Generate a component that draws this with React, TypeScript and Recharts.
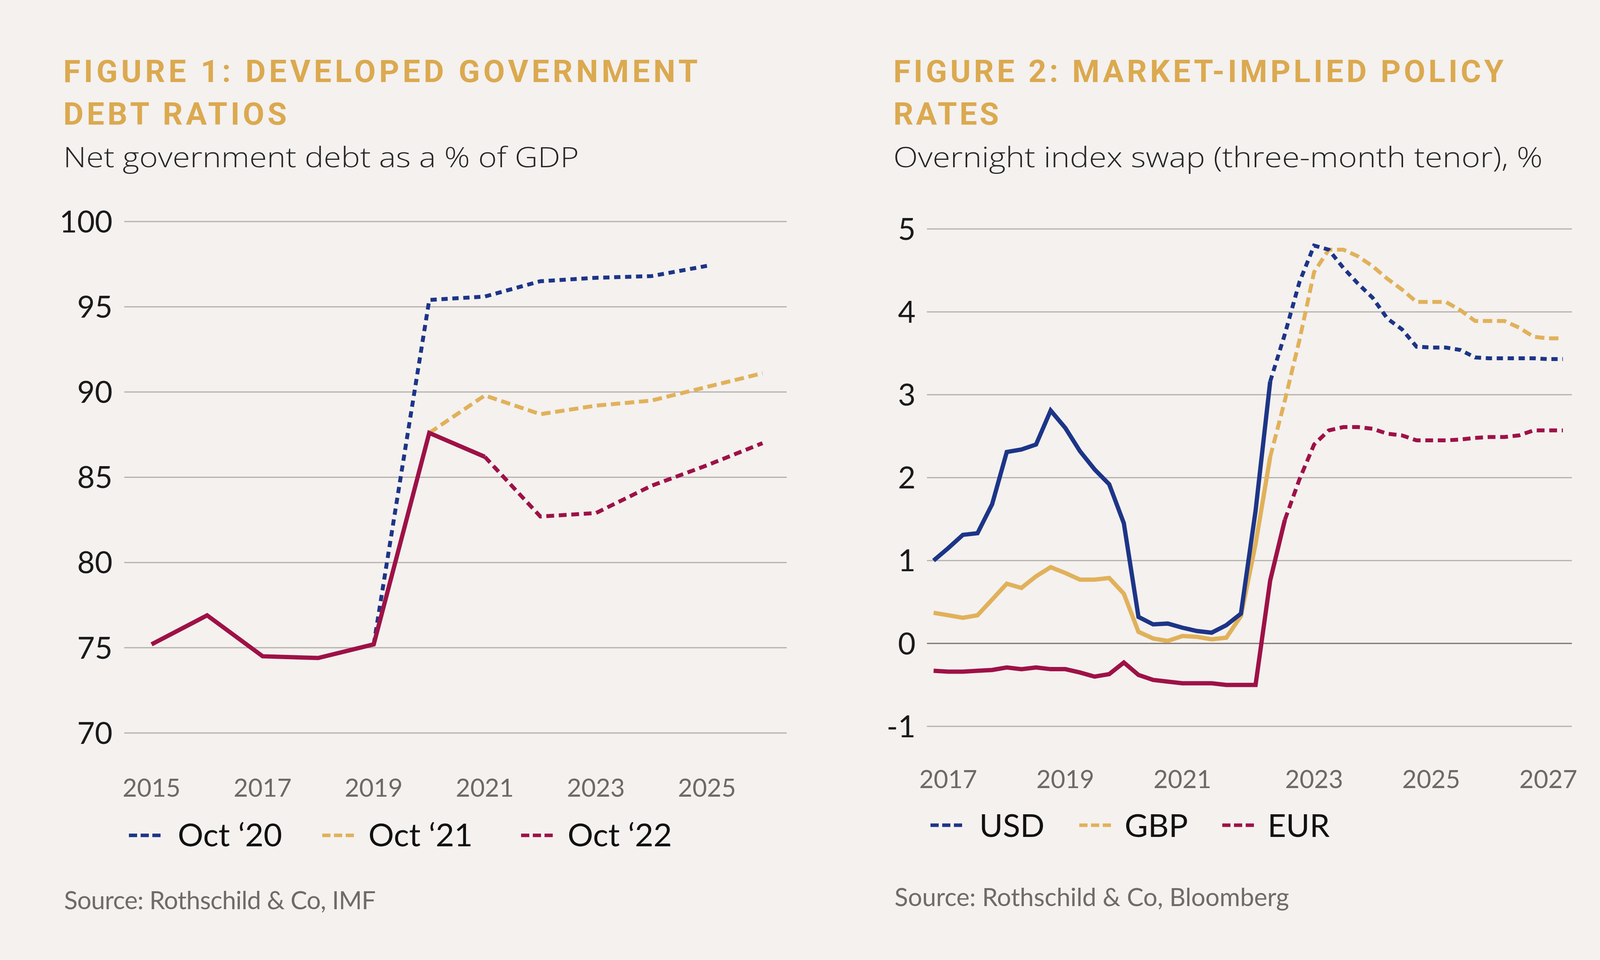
import React from 'react';
import { LineChart, Line, XAxis, YAxis, CartesianGrid, ReferenceLine } from 'recharts';

// ---------- palette ----------
const BG = '#F4F1EF';
const NAVY = '#1D3587';
const GOLD = '#E1B15A';
const CRIMSON = '#9E1147';
const TITLE_GOLD = '#DBA94F';
const GRID = '#B5B0AB';
const ZERO = '#7E7872';
const SANS = 'Lato, "Open Sans", "Noto Sans", sans-serif';
const LIGHT_SANS = '"Open Sans", Lato, "Noto Sans", sans-serif';

// ---------- Figure 1 data ----------
const fig1Years = [2015, 2016, 2017, 2018, 2019, 2020, 2021, 2022, 2023, 2024, 2025, 2026];
const oct20Values: (number | null)[] = [null, null, null, null, 75.2, 95.4, 95.6, 96.5, 96.7, 96.8, 97.4, null];
const oct21Values: (number | null)[] = [null, null, null, null, null, 87.6, 89.8, 88.7, 89.2, 89.5, 90.3, 91.1];
const oct22Values: number[] = [75.2, 76.9, 74.5, 74.4, 75.2, 87.6, 86.2, 82.7, 82.9, 84.5, 85.7, 87.0];
const oct22ForecastFrom = 2021;
const fig1YTicks = [70, 75, 80, 85, 90, 95, 100];
const fig1XTicks = [2015, 2017, 2019, 2021, 2023, 2025];

// ---------- Figure 2 data (quarterly) ----------
const usdValues = [
  1.0, 1.15, 1.31, 1.33, 1.68, 2.31, 2.34, 2.4, 2.81, 2.6, 2.32, 2.1, 1.92, 1.45,
  0.32, 0.23, 0.24, 0.19, 0.15, 0.13, 0.22, 0.36, 1.6, 3.16,
  3.73, 4.36, 4.8, 4.75, 4.53, 4.34, 4.17, 3.92, 3.79, 3.58, 3.57, 3.57, 3.54, 3.45, 3.44, 3.44, 3.44, 3.44, 3.43, 3.43,
];
const gbpValues = [
  0.37, 0.34, 0.31, 0.34, 0.53, 0.72, 0.67, 0.81, 0.92, 0.85, 0.77, 0.77, 0.79, 0.6,
  0.14, 0.06, 0.03, 0.09, 0.08, 0.05, 0.07, 0.33, 1.2, 2.25,
  2.93, 3.66, 4.48, 4.75, 4.75, 4.67, 4.55, 4.4, 4.27, 4.12, 4.12, 4.12, 4.02, 3.89, 3.89, 3.89, 3.81, 3.7, 3.68, 3.68,
];
const eurValues = [
  -0.33, -0.34, -0.34, -0.33, -0.32, -0.29, -0.31, -0.29, -0.31, -0.31, -0.35, -0.4, -0.37, -0.23,
  -0.38, -0.44, -0.46, -0.48, -0.48, -0.48, -0.5, -0.5, -0.5, 0.76, 1.49,
  1.98, 2.4, 2.57, 2.61, 2.61, 2.59, 2.53, 2.51, 2.45, 2.45, 2.45, 2.46, 2.48, 2.49, 2.49, 2.51, 2.57, 2.57, 2.57,
];
const usdForecastFrom = 23;
const gbpForecastFrom = 23;
const eurForecastFrom = 24;
const fig2YTicks = [-1, 0, 1, 2, 3, 4, 5];
const fig2XTickQuarters = [1, 9, 17, 26, 34, 42];
const fig2XTickLabels = ['2017', '2019', '2021', '2023', '2025', '2027'];

// ---------- legends ----------
const fig1LegendLabels = ['Oct \u201820', 'Oct \u201821', 'Oct \u201822'];
const fig1LegendColors = [NAVY, GOLD, CRIMSON];
const fig2LegendLabels = ['USD', 'GBP', 'EUR'];
const fig2LegendColors = [NAVY, GOLD, CRIMSON];

// ---------- tables ----------
const fig1Data = fig1Years.map((year, i) => ({
  year,
  oct20: oct20Values[i],
  oct21: oct21Values[i],
  oct22Solid: year <= oct22ForecastFrom ? oct22Values[i] : null,
  oct22Dash: year >= oct22ForecastFrom ? oct22Values[i] : null,
}));

const fig2Data = usdValues.map((_, q) => ({
  q,
  usdSolid: q <= usdForecastFrom ? usdValues[q] : null,
  usdDash: q >= usdForecastFrom ? usdValues[q] : null,
  gbpSolid: q <= gbpForecastFrom ? gbpValues[q] : null,
  gbpDash: q >= gbpForecastFrom ? gbpValues[q] : null,
  eurSolid: q <= eurForecastFrom ? eurValues[q] : null,
  eurDash: q >= eurForecastFrom ? eurValues[q] : null,
}));

const SOLID_W = 11;
const DASH_W = 10;

function Legend({ labels, colors, dashX, textX, dashY, textY }: any) {
  return (
    <g>
      {labels.map((l: string, i: number) => (
        <g key={l}>
          <line x1={dashX[i]} x2={dashX[i] + 81} y1={dashY} y2={dashY} stroke={colors[i]} strokeWidth={9} strokeDasharray="21 9" />
          <text x={textX[i]} y={textY} fontFamily={SANS} fontSize={82} fill="#111">{l}</text>
        </g>
      ))}
    </g>
  );
}

export default function App() {
  return (
    <div style={{ position: 'absolute', left: 0, top: 0, width: 4224, height: 2457, background: BG, overflow: 'hidden' }}>
      {/* Figure 1 */}
      <div style={{ position: 'absolute', left: 0, top: 0 }}>
        <LineChart width={2100} height={2150} data={fig1Data} margin={{ top: 567, right: 86, left: 0, bottom: 74 }}>
          <CartesianGrid vertical={false} stroke={GRID} strokeWidth={3} />
          <XAxis
            type="number"
            dataKey="year"
            domain={[2015, 2026]}
            ticks={fig1XTicks}
            interval={0}
            padding={{ left: 70, right: 62 }}
            axisLine={false}
            tickLine={false}
            tickSize={0}
            tickMargin={118}
            height={200}
            tick={{ fill: '#6D6964', fontSize: 64, fontFamily: SANS }}
          />
          <YAxis
            type="number"
            domain={[70, 100]}
            ticks={fig1YTicks}
            interval={0}
            axisLine={false}
            tickLine={false}
            tickSize={0}
            tickMargin={30}
            width={318}
            tick={{ fill: '#1A1A1A', fontSize: 78, fontFamily: SANS }}
          />
          <Line dataKey="oct20" stroke={NAVY} strokeWidth={DASH_W} strokeDasharray="16 12" dot={false} activeDot={false} isAnimationActive={false} />
          <Line dataKey="oct21" stroke={GOLD} strokeWidth={DASH_W} strokeDasharray="24 12" dot={false} activeDot={false} isAnimationActive={false} />
          <Line dataKey="oct22Solid" stroke={CRIMSON} strokeWidth={SOLID_W} dot={false} activeDot={false} isAnimationActive={false} />
          <Line dataKey="oct22Dash" stroke={CRIMSON} strokeWidth={DASH_W} strokeDasharray="20 12" dot={false} activeDot={false} isAnimationActive={false} />
        </LineChart>
      </div>

      {/* Figure 2 */}
      <div style={{ position: 'absolute', left: 2200, top: 0 }}>
        <LineChart width={1900} height={2150} data={fig2Data} margin={{ top: 586, right: 76, left: 0, bottom: 91 }}>
          <CartesianGrid vertical={false} stroke={GRID} strokeWidth={3} />
          <ReferenceLine y={0} stroke={ZERO} strokeWidth={3} />
          <XAxis
            type="number"
            dataKey="q"
            domain={[0, 43]}
            ticks={fig2XTickQuarters}
            tickFormatter={(v: number) => fig2XTickLabels[fig2XTickQuarters.indexOf(v)] ?? ''}
            interval={0}
            padding={{ left: 17, right: 23 }}
            axisLine={false}
            tickLine={false}
            tickSize={0}
            tickMargin={113}
            height={200}
            tick={{ fill: '#6D6964', fontSize: 64, fontFamily: SANS }}
          />
          <YAxis
            type="number"
            domain={[-1, 5]}
            ticks={fig2YTicks}
            interval={0}
            axisLine={false}
            tickLine={false}
            tickSize={0}
            tickMargin={29}
            width={173}
            tick={{ fill: '#1A1A1A', fontSize: 78, fontFamily: SANS }}
          />
          <Line dataKey="gbpSolid" stroke={GOLD} strokeWidth={SOLID_W} dot={false} activeDot={false} isAnimationActive={false} />
          <Line dataKey="usdSolid" stroke={NAVY} strokeWidth={SOLID_W} dot={false} activeDot={false} isAnimationActive={false} />
          <Line dataKey="eurSolid" stroke={CRIMSON} strokeWidth={SOLID_W} dot={false} activeDot={false} isAnimationActive={false} />
          <Line dataKey="gbpDash" stroke={GOLD} strokeWidth={DASH_W} strokeDasharray="24 12" dot={false} activeDot={false} isAnimationActive={false} />
          <Line dataKey="usdDash" stroke={NAVY} strokeWidth={DASH_W} strokeDasharray="16 12" dot={false} activeDot={false} isAnimationActive={false} />
          <Line dataKey="eurDash" stroke={CRIMSON} strokeWidth={DASH_W} strokeDasharray="20 12" dot={false} activeDot={false} isAnimationActive={false} />
        </LineChart>
      </div>

      {/* Text overlay */}
      <svg width={4224} height={2457} style={{ position: 'absolute', left: 0, top: 0, pointerEvents: 'none' }}>
        <g fontFamily="Roboto, 'Noto Sans', sans-serif" fontWeight={700} fontSize={80} fill={TITLE_GOLD}>
          <text x={162} y={210} textLength={1624} lengthAdjust="spacing">FIGURE 1: DEVELOPED GOVERNMENT</text>
          <text x={162} y={319} textLength={572} lengthAdjust="spacing">DEBT RATIOS</text>
          <text x={2287} y={210} textLength={1562} lengthAdjust="spacing">FIGURE 2: MARKET-IMPLIED POLICY</text>
          <text x={2287} y={319} textLength={270} lengthAdjust="spacing">RATES</text>
        </g>
        <g fontFamily={LIGHT_SANS} fontWeight={300} fontSize={72} fill="#262626">
          <text x={162} y={428} textLength={1320} lengthAdjust="spacingAndGlyphs">Net government debt as a % of GDP</text>
          <text x={2287} y={428} textLength={1662} lengthAdjust="spacingAndGlyphs">Overnight index swap (three-month tenor), %</text>
        </g>
        <g fontFamily={SANS} fontWeight={400} fontSize={64} fill="#6F6B67">
          <text x={164} y={2327} textLength={798} lengthAdjust="spacing">Source: Rothschild &amp; Co, IMF</text>
          <text x={2290} y={2319} textLength={1010} lengthAdjust="spacing">Source: Rothschild &amp; Co, Bloomberg</text>
        </g>
        <Legend labels={fig1LegendLabels} colors={fig1LegendColors} dashX={[330, 825, 1334]} textX={[455, 943, 1453]} dashY={2138} textY={2166} />
        <Legend labels={fig2LegendLabels} colors={fig2LegendColors} dashX={[2382, 2763, 3129]} textX={[2507, 2879, 3245]} dashY={2112} textY={2142} />
      </svg>
    </div>
  );
}
